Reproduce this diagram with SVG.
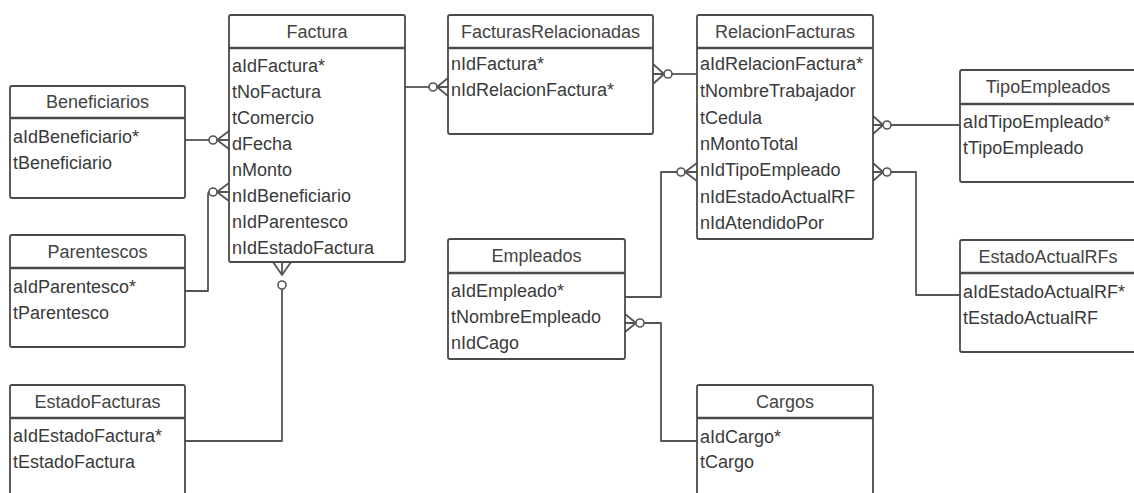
<svg xmlns="http://www.w3.org/2000/svg" width="1134" height="493" viewBox="0 0 1134 493">
<style>
.box{fill:#fff;stroke:#4a4a4a;stroke-width:1.8}
.sep{stroke:#4a4a4a;stroke-width:2.6}
.t{font-family:"Liberation Sans",Arial,sans-serif;font-size:18px;fill:#3a3a3a}
.h{font-family:"Liberation Sans",Arial,sans-serif;font-size:18px;fill:#444;text-anchor:middle}
.c{fill:none;stroke:#555;stroke-width:1.8;stroke-linejoin:round}
.o{fill:#fff;stroke:#555;stroke-width:1.6}
</style>
<rect width="1134" height="493" fill="#fff"/>

<g id="connectors">
  <!-- Factura -> FacturasRelacionadas -->
  <path class="c" d="M405,87 H429"/>
  <circle class="o" cx="433" cy="87" r="4"/>
  <path class="c" d="M448,78 L437,87 L448,96 M437,87 H448"/>
  <!-- FacturasRelacionadas -> RelacionFacturas -->
  <path class="c" d="M653,64 L664,74 L653,84 M653,74 H664"/>
  <circle class="o" cx="668" cy="74" r="4"/>
  <path class="c" d="M672,74 H697"/>
  <!-- Beneficiarios -> Factura -->
  <path class="c" d="M185,140 H209"/>
  <circle class="o" cx="213" cy="140" r="4"/>
  <path class="c" d="M229,131 L217,140 L229,149 M217,140 H229"/>
  <!-- Parentescos -> Factura -->
  <path class="c" d="M185,291 H208 V196 Q208,192 209,192"/>
  <circle class="o" cx="213" cy="192" r="4"/>
  <path class="c" d="M229,183 L217,192 L229,201 M217,192 H229"/>
  <!-- EstadoFacturas -> Factura -->
  <path class="c" d="M185,441 H282 V289"/>
  <circle class="o" cx="282" cy="285" r="4"/>
  <path class="c" d="M273,262 L282,275 L291,262 M282,262 V275"/>
  <!-- Empleados -> RelacionFacturas -->
  <path class="c" d="M625,297 H661 V172 H677"/>
  <circle class="o" cx="681" cy="172" r="4"/>
  <path class="c" d="M697,163 L685,172 L697,181 M685,172 H697"/>
  <!-- Empleados -> Cargos -->
  <path class="c" d="M625,314 L636,323 L625,332 M625,323 H636"/>
  <circle class="o" cx="640" cy="323" r="4"/>
  <path class="c" d="M644,323 H661 V441 H697"/>
  <!-- RelacionFacturas -> TipoEmpleados -->
  <path class="c" d="M873,116 L883,125 L873,134 M873,125 H883"/>
  <circle class="o" cx="887" cy="125" r="4"/>
  <path class="c" d="M891,125 H960"/>
  <!-- RelacionFacturas -> EstadoActualRFs -->
  <path class="c" d="M873,163 L883,172 L873,181 M873,172 H883"/>
  <circle class="o" cx="887" cy="172" r="4"/>
  <path class="c" d="M891,172 H916 V295 H960"/>
</g>

<g id="Factura">
  <rect class="box" x="229" y="15" width="176" height="247" rx="2"/>
  <line class="sep" x1="229" y1="48" x2="405" y2="48"/>
  <text class="h" x="317" y="38">Factura</text>
  <text class="t" x="232" y="72">aIdFactura*</text>
  <text class="t" x="232" y="98">tNoFactura</text>
  <text class="t" x="232" y="124">tComercio</text>
  <text class="t" x="232" y="150">dFecha</text>
  <text class="t" x="232" y="176">nMonto</text>
  <text class="t" x="232" y="202">nIdBeneficiario</text>
  <text class="t" x="232" y="228">nIdParentesco</text>
  <text class="t" x="232" y="254">nIdEstadoFactura</text>
</g>

<g id="Beneficiarios">
  <rect class="box" x="10" y="86" width="175" height="112" rx="2"/>
  <line class="sep" x1="10" y1="118" x2="185" y2="118"/>
  <text class="h" x="97.5" y="108">Beneficiarios</text>
  <text class="t" x="13" y="143">aIdBeneficiario*</text>
  <text class="t" x="13" y="169">tBeneficiario</text>
</g>

<g id="Parentescos">
  <rect class="box" x="10" y="235" width="175" height="112" rx="2"/>
  <line class="sep" x1="10" y1="268" x2="185" y2="268"/>
  <text class="h" x="97.5" y="258">Parentescos</text>
  <text class="t" x="13" y="293">aIdParentesco*</text>
  <text class="t" x="13" y="319">tParentesco</text>
</g>

<g id="EstadoFacturas">
  <rect class="box" x="10" y="385" width="175" height="120" rx="2"/>
  <line class="sep" x1="10" y1="418" x2="185" y2="418"/>
  <text class="h" x="97.5" y="408">EstadoFacturas</text>
  <text class="t" x="13" y="442">aIdEstadoFactura*</text>
  <text class="t" x="13" y="468">tEstadoFactura</text>
</g>

<g id="FacturasRelacionadas">
  <rect class="box" x="448" y="15" width="205" height="119" rx="2"/>
  <line class="sep" x1="448" y1="48" x2="653" y2="48"/>
  <text class="h" x="550.5" y="38">FacturasRelacionadas</text>
  <text class="t" x="451" y="70">nIdFactura*</text>
  <text class="t" x="451" y="96">nIdRelacionFactura*</text>
</g>

<g id="RelacionFacturas">
  <rect class="box" x="697" y="15" width="176" height="224" rx="2"/>
  <line class="sep" x1="697" y1="48" x2="873" y2="48"/>
  <text class="h" x="785" y="38">RelacionFacturas</text>
  <text class="t" x="700" y="70">aIdRelacionFactura*</text>
  <text class="t" x="700" y="97">tNombreTrabajador</text>
  <text class="t" x="700" y="124">tCedula</text>
  <text class="t" x="700" y="150">nMontoTotal</text>
  <text class="t" x="700" y="176">nIdTipoEmpleado</text>
  <text class="t" x="700" y="203">nIdEstadoActualRF</text>
  <text class="t" x="700" y="229">nIdAtendidoPor</text>
</g>

<g id="TipoEmpleados">
  <rect class="box" x="960" y="70" width="176" height="112" rx="2"/>
  <line class="sep" x1="960" y1="104" x2="1136" y2="104"/>
  <text class="h" x="1048" y="93">TipoEmpleados</text>
  <text class="t" x="963" y="128">aIdTipoEmpleado*</text>
  <text class="t" x="963" y="154">tTipoEmpleado</text>
</g>

<g id="EstadoActualRFs">
  <rect class="box" x="960" y="240" width="176" height="112" rx="2"/>
  <line class="sep" x1="960" y1="273" x2="1136" y2="273"/>
  <text class="h" x="1048" y="263">EstadoActualRFs</text>
  <text class="t" x="963" y="298">aIdEstadoActualRF*</text>
  <text class="t" x="963" y="324">tEstadoActualRF</text>
</g>

<g id="Empleados">
  <rect class="box" x="448" y="239" width="177" height="120" rx="2"/>
  <line class="sep" x1="448" y1="273" x2="625" y2="273"/>
  <text class="h" x="536.5" y="262">Empleados</text>
  <text class="t" x="451" y="297">aIdEmpleado*</text>
  <text class="t" x="451" y="323">tNombreEmpleado</text>
  <text class="t" x="451" y="349">nIdCago</text>
</g>

<g id="Cargos">
  <rect class="box" x="697" y="385" width="176" height="120" rx="2"/>
  <line class="sep" x1="697" y1="418" x2="873" y2="418"/>
  <text class="h" x="785" y="408">Cargos</text>
  <text class="t" x="700" y="443">aIdCargo*</text>
  <text class="t" x="700" y="468">tCargo</text>
</g>
</svg>
